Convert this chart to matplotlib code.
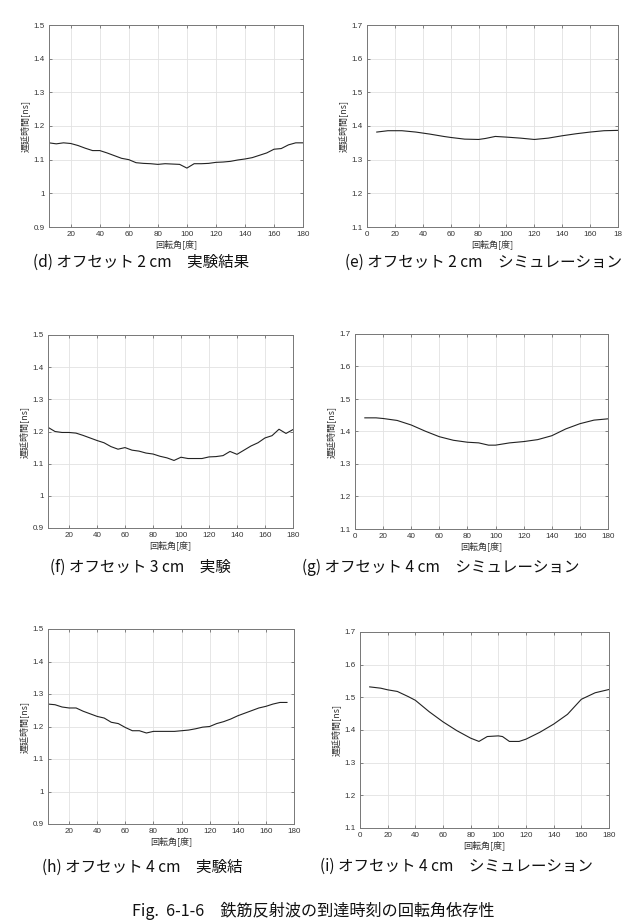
import matplotlib
matplotlib.use("Agg")
import matplotlib.pyplot as plt
from matplotlib.ticker import FuncFormatter

# --- data ---
# (d) offset 2 cm, experiment
d_angle = [5, 10, 15, 20, 25, 30, 35, 40, 45, 50, 55, 60, 65, 70, 75, 80, 85, 90,
           95, 100, 105, 110, 115, 120, 125, 130, 135, 140, 145, 150, 155, 160,
           165, 170, 175, 180]
d_delay = [1.150, 1.147, 1.150, 1.148, 1.142, 1.134, 1.127, 1.127, 1.120, 1.112,
           1.104, 1.100, 1.091, 1.089, 1.088, 1.086, 1.088, 1.087, 1.086, 1.075,
           1.088, 1.088, 1.089, 1.092, 1.093, 1.095, 1.099, 1.102, 1.106, 1.113,
           1.120, 1.131, 1.133, 1.144, 1.150, 1.150]

# (e) offset 2 cm, simulation
e_angle = [7, 15, 25, 35, 45, 55, 60, 70, 80, 85, 92, 100, 110, 120, 130, 140,
           150, 160, 170, 180]
e_delay = [1.382, 1.386, 1.386, 1.382, 1.376, 1.369, 1.366, 1.361, 1.360, 1.363,
           1.369, 1.367, 1.364, 1.360, 1.364, 1.371, 1.377, 1.382, 1.386, 1.387]

# (f) offset 3 cm, experiment
f_angle = [5, 10, 15, 20, 25, 30, 35, 40, 45, 50, 55, 60, 65, 70, 75, 80, 85, 90,
           95, 100, 105, 110, 115, 120, 125, 130, 135, 140, 145, 150, 155, 160,
           165, 170, 175, 180]
f_delay = [1.213, 1.200, 1.197, 1.197, 1.195, 1.188, 1.180, 1.172, 1.165, 1.153,
           1.145, 1.150, 1.142, 1.139, 1.133, 1.130, 1.123, 1.118, 1.110, 1.120,
           1.116, 1.116, 1.116, 1.121, 1.122, 1.125, 1.138, 1.129, 1.142, 1.155,
           1.165, 1.180, 1.187, 1.207, 1.194, 1.206]

# (g) offset 4 cm, simulation
g_angle = [7, 15, 20, 30, 40, 50, 60, 70, 80, 88, 95, 100, 110, 120, 130, 140,
           150, 160, 170, 180]
g_delay = [1.442, 1.442, 1.440, 1.434, 1.420, 1.401, 1.384, 1.373, 1.367, 1.365,
           1.358, 1.358, 1.365, 1.369, 1.375, 1.387, 1.408, 1.424, 1.435, 1.439]

# (h) offset 4 cm, experiment
h_angle = [5, 10, 15, 20, 25, 30, 35, 40, 45, 50, 55, 60, 65, 70, 75, 80, 85, 90,
           95, 100, 105, 110, 115, 120, 125, 130, 135, 140, 145, 150, 155, 160,
           165, 170, 175]
h_delay = [1.269, 1.267, 1.260, 1.257, 1.257, 1.247, 1.239, 1.231, 1.226, 1.213,
           1.209, 1.197, 1.187, 1.187, 1.180, 1.185, 1.185, 1.185, 1.185, 1.187,
           1.189, 1.193, 1.198, 1.200, 1.209, 1.215, 1.223, 1.233, 1.241, 1.249,
           1.257, 1.262, 1.269, 1.274, 1.274]

# (i) offset 4 cm, simulation
i_angle = [7, 15, 20, 27, 35, 40, 50, 60, 70, 80, 86, 92, 100, 103, 108, 115,
           120, 130, 140, 150, 160, 170, 180]
i_delay = [1.532, 1.528, 1.523, 1.518, 1.502, 1.491, 1.456, 1.425, 1.398, 1.375,
           1.365, 1.380, 1.382, 1.380, 1.365, 1.365, 1.372, 1.393, 1.418, 1.448,
           1.494, 1.514, 1.524]

exp_xticks = [20, 40, 60, 80, 100, 120, 140, 160, 180]
sim_xticks = [0, 20, 40, 60, 80, 100, 120, 140, 160, 180]
e_xticklabels = ["0", "20", "40", "60", "80", "100", "120", "140", "160", "18"]
exp_yticks = [0.9, 1.0, 1.1, 1.2, 1.3, 1.4, 1.5]
sim_yticks = [1.1, 1.2, 1.3, 1.4, 1.5, 1.6, 1.7]

captions = [
    "(d) オフセット 2 cm　実験結果",
    "(e) オフセット 2 cm　シミュレーション",
    "(f) オフセット 3 cm　実験",
    "(g) オフセット 4 cm　シミュレーション",
    "(h) オフセット 4 cm　実験結",
    "(i) オフセット 4 cm　シミュレーション",
]
fig_caption = "Fig.  6-1-6　鉄筋反射波の到達時刻の回転角依存性"

xlabel = "回転角[度]"
ylabel = "遅延時間[ns]"

W, H = 633, 923
jp = ["Noto Sans CJK JP", "DejaVu Sans"]
num = ["Liberation Sans Narrow", "Liberation Sans", "DejaVu Sans"]

fig = plt.figure(figsize=(W / 100.0, H / 100.0), dpi=100)


def make_axes(px_left, px_top, px_right, px_bottom):
    return fig.add_axes([px_left / W, 1 - px_bottom / H,
                         (px_right - px_left) / W, (px_bottom - px_top) / H])


def style(ax, x, y, xlim, ylim, xticks, yticks, xticklabels=None):
    ax.plot(x, y, color="#222222", lw=0.8)
    ax.set_xlim(xlim)
    ax.set_ylim(ylim)
    ax.set_xticks(xticks)
    if xticklabels is not None:
        ax.set_xticklabels(xticklabels)
    ax.set_yticks(yticks)
    ax.yaxis.set_major_formatter(FuncFormatter(lambda v, p: "%g" % round(v, 2)))
    ax.grid(True, color="#e2e2e2", lw=0.6)
    ax.tick_params(direction="in", length=2, width=0.5, colors="#555555",
                   labelcolor="#333333", labelsize=5.8, pad=3,
                   top=True, right=True)
    for lab in ax.get_xticklabels() + ax.get_yticklabels():
        lab.set_family(num)
    for s in ax.spines.values():
        s.set_color("#777777")
        s.set_linewidth(0.7)
    ax.set_xlabel(xlabel, family=jp, fontsize=6.5, color="#333333", labelpad=1)
    ax.set_ylabel(ylabel, family=jp, fontsize=6.5, color="#333333", labelpad=3)


ax = make_axes(49, 25, 303, 227)
style(ax, d_angle, d_delay, (5, 180), (0.9, 1.5), exp_xticks, exp_yticks)
ax = make_axes(367, 25, 618, 227)
style(ax, e_angle, e_delay, (0, 180), (1.1, 1.7), sim_xticks, sim_yticks, e_xticklabels)

ax = make_axes(48, 335, 293, 528)
style(ax, f_angle, f_delay, (5, 180), (0.9, 1.5), exp_xticks, exp_yticks)
ax = make_axes(355, 334, 608, 529)
style(ax, g_angle, g_delay, (0, 180), (1.1, 1.7), sim_xticks, sim_yticks)

ax = make_axes(48, 629, 294, 824)
style(ax, h_angle, h_delay, (5, 180), (0.9, 1.5), exp_xticks, exp_yticks)
ax = make_axes(360, 632, 609, 828)
style(ax, i_angle, i_delay, (0, 180), (1.1, 1.7), sim_xticks, sim_yticks)

# captions under each panel
cap_pos = [(33, 262), (345, 262), (50, 567), (302, 567), (42, 867), (320, 866)]
for (cx, cy), txt in zip(cap_pos, captions):
    fig.text(cx / W, 1 - cy / H, txt, family=jp, fontsize=11.2, va="center",
             ha="left", color="#111111")

fig.text(313 / W, 1 - 911 / H, fig_caption, family=jp, fontsize=11.6,
         va="center", ha="center", color="#111111")

fig.savefig("out.png", dpi=100)
plt.close()
